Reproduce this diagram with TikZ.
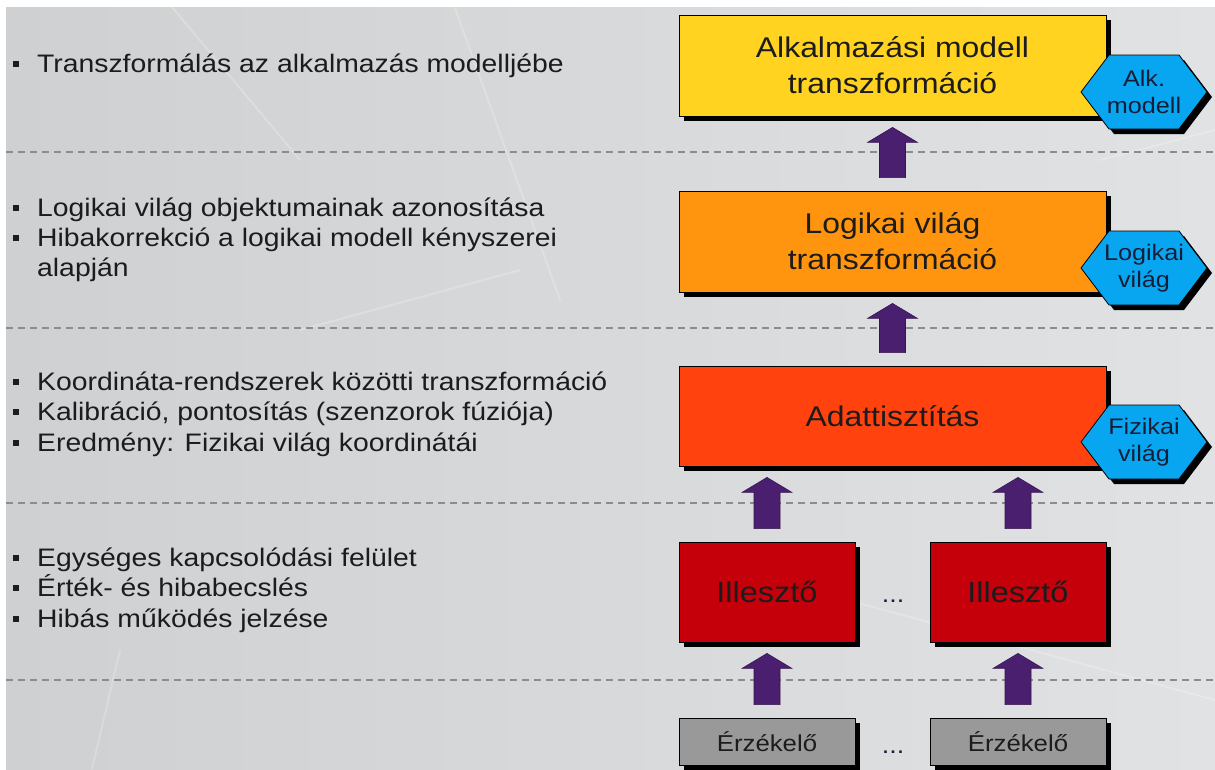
\documentclass[tikz,border=0pt]{standalone}
\usepackage{fontspec}
\setmainfont[FakeStretch=1.12]{Liberation Sans}
\usetikzlibrary{calc,shadows}
\definecolor{bgL}{RGB}{206,208,209}
\definecolor{bgR}{RGB}{224,226,227}
\definecolor{cyel}{RGB}{255,211,32}
\definecolor{corg}{RGB}{255,149,14}
\definecolor{cred}{RGB}{255,66,14}
\definecolor{cdred}{RGB}{197,0,11}
\definecolor{cgray}{RGB}{153,153,153}
\definecolor{chex}{RGB}{8,166,240}
\definecolor{cpur}{RGB}{75,31,111}
\definecolor{ctext}{RGB}{28,28,28}
\definecolor{chtext}{RGB}{20,30,55}
\definecolor{cdash}{RGB}{140,140,140}
\newcommand{\uparr}[2]{%
  \filldraw[arrowfill] let \p1=(#1.north), \p2=(#2.south) in
    (\x1-13pt,\y1+13pt) -- (\x1-13pt,\y2-26pt) -- (\x1-25pt,\y2-26pt) --
    (\x1,\y2-11pt) -- (\x1+25pt,\y2-26pt) -- (\x1+13pt,\y2-26pt) --
    (\x1+13pt,\y1+13pt) -- cycle;}
\newcommand{\hexlab}[4]{%
  \fill[black] ({#2-63+5},{#3+5}) -- ({#2-35+5},{#3-37+5}) -- ({#2+35+5},{#3-37+5}) --
    ({#2+63+5},{#3+5}) -- ({#2+35+5},{#3+37+5}) -- ({#2-35+5},{#3+37+5}) -- cycle;
  \filldraw[hexfill] ({#2-63},{#3}) -- ({#2-35},{#3-37}) -- ({#2+35},{#3-37}) --
    ({#2+63},{#3}) -- ({#2+35},{#3+37}) -- ({#2-35},{#3+37}) -- cycle;
  \node[hextext] (#1) at (#2,#3) {#4};}
\tikzset{
  box/.style={draw=black, line width=0.8pt, inner sep=0pt, text=ctext, align=center,
    font=\fontsize{28.5}{36}\selectfont,
    drop shadow={shadow xshift=5pt, shadow yshift=-5pt, fill=black, opacity=1}},
  bigbox/.style={box, minimum width=427pt, minimum height=101pt},
  smallbox/.style={box, minimum width=176pt, minimum height=100pt,
    font=\fontsize{29}{36}\selectfont},
  sensor/.style={box, fill=cgray, minimum width=176pt, minimum height=47pt,
    font=\fontsize{23}{26}\selectfont},
  hexfill/.style={fill=chex, draw=black, line width=0.8pt},
  hextext/.style={text=chtext, align=center, inner sep=0pt, font=\fontsize{22.5}{27}\selectfont},
  arrowfill/.style={fill=cpur, draw=cpur!70!black, line width=0.6pt},
  dashline/.style={draw=cdash, line width=1.4pt, dash pattern=on 7pt off 5pt},
  lt/.style={anchor=base west, inner sep=0pt, text=ctext, font=\fontsize{25.3}{30}\selectfont},
  bul/.style={fill=ctext, minimum size=6pt, inner sep=0pt},
  dots/.style={anchor=base, inner sep=0pt, text=chtext, font=\fontsize{24}{28}\selectfont},
  streak/.style={draw=white, line width=2pt, opacity=0.22, line cap=round}
}
\begin{document}
\begin{tikzpicture}[x=1pt,y=-1pt]
\useasboundingbox (0,0) rectangle (1215,769);
\fill[white] (0,0) rectangle (1215,769);
\shade[left color=bgL, right color=bgR] (6,7) rectangle (1215,769);
% faint background streaks
\draw[streak] (172,7) -- (300,160);
\draw[streak] (455,8) -- (560,300);
\draw[streak] (300,330) -- (520,270);
\draw[streak] (700,560) -- (1215,700);
\draw[streak] (120,650) -- (92,769);
\draw[streak] (1100,160) -- (1215,130);
% dashed separators
\draw[dashline] (6,152) -- (1215,152);
\draw[dashline] (6,328) -- (1215,328);
\draw[dashline] (6,503) -- (1215,503);
\draw[dashline] (6,680) -- (1215,680);
% left texts
\node[bul] (b1) at (16,63.5) {};
\node[lt] (t1) at (37,72) {Transzformálás az alkalmazás modelljébe};
\node[bul] (b2) at (16,207.5) {};
\node[lt] (t2) at (37,216) {Logikai világ objektumainak azonosítása};
\node[bul] (b3) at (16,237.5) {};
\node[lt] (t3) at (37,246) {Hibakorrekció a logikai modell kényszerei};
\node[lt] (t3b) at (37,276) {alapján};
\node[bul] (b4) at (16,381.5) {};
\node[lt] (t4) at (37,390) {Koordináta-rendszerek közötti transzformáció};
\node[bul] (b5) at (16,411.5) {};
\node[lt] (t5) at (37,420) {Kalibráció, pontosítás (szenzorok fúziója)};
\node[bul] (b6) at (16,442.5) {};
\node[lt] (t6) at (37,451) {Eredmény: Fizikai világ koordinátái};
\node[bul] (b7) at (16,557.5) {};
\node[lt] (t7) at (37,566) {Egységes kapcsolódási felület};
\node[bul] (b8) at (16,587.5) {};
\node[lt] (t8) at (37,596) {Érték- és hibabecslés};
\node[bul] (b9) at (16,618.5) {};
\node[lt] (t9) at (37,627) {Hibás működés jelzése};
% boxes
\node[bigbox, fill=cyel] (alk) at (892.5,65.5) {Alkalmazási modell\\transzformáció};
\node[bigbox, fill=corg] (log) at (892.5,241.5) {Logikai világ\\transzformáció};
\node[bigbox, fill=cred, minimum height=100pt] (adat) at (892.5,416) {Adattisztítás};
\node[smallbox, fill=cdred] (ill1) at (767,592) {Illesztő};
\node[smallbox, fill=cdred] (ill2) at (1018,592) {Illesztő};
\node[sensor] (erz1) at (767,741.5) {Érzékelő};
\node[sensor] (erz2) at (1018,741.5) {Érzékelő};
\node[dots] (d1) at (893,602) {...};
\node[dots] (d2) at (893,753) {...};
% hexagon labels
\hexlab{halk}{1144}{92}{Alk.\\modell}
\hexlab{hlog}{1144}{268}{Logikai\\világ}
\hexlab{hfiz}{1144}{442}{Fizikai\\világ}
% block arrows
\uparr{log}{alk}
\uparr{adat}{log}
\uparr{ill1}{adat}
\uparr{ill2}{adat}
\uparr{erz1}{ill1}
\uparr{erz2}{ill2}
\end{tikzpicture}
\end{document}
